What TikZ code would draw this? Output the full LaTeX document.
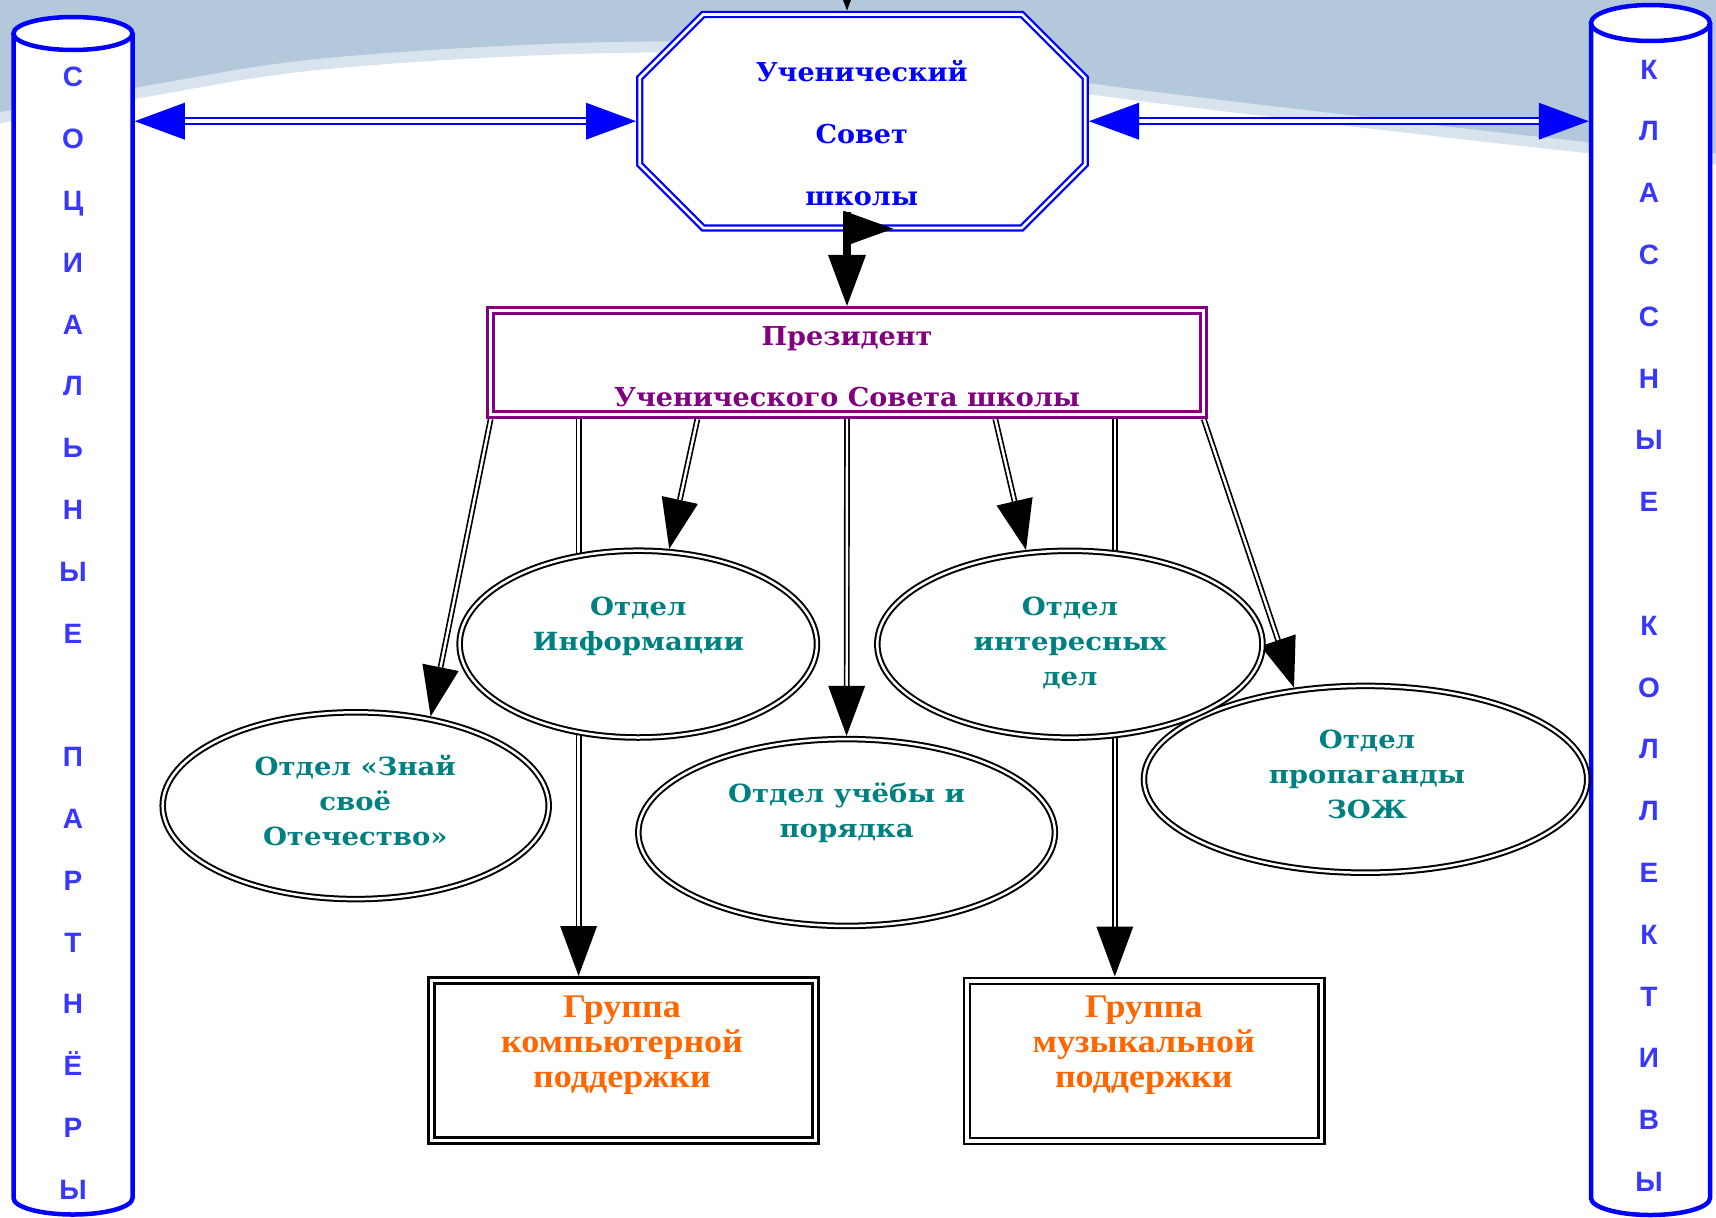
\documentclass[tikz,border=0pt]{standalone}
\usepackage{fontspec}
\usetikzlibrary{arrows.meta,shapes.geometric,calc}
\newfontfamily\bookf{DejaVu Serif}[FakeStretch=1.04]
\newfontfamily\bookw{DejaVu Serif}[FakeStretch=1.1]
\newfontfamily\timesf{Liberation Serif}[FakeStretch=1.09]
\newfontfamily\arialf{Liberation Sans}
\definecolor{bgblue}{RGB}{180,200,220}
\definecolor{bgpale}{RGB}{216,227,238}
\definecolor{cylblue}{RGB}{0,0,255}
\definecolor{cyltxt}{RGB}{55,55,255}
\definecolor{prespurple}{RGB}{128,0,128}
\definecolor{deptteal}{RGB}{0,128,128}
\definecolor{grporange}{RGB}{255,102,0}
\pgfdeclarelayer{bg}
\pgfdeclarelayer{edges}
\pgfsetlayers{bg,edges,main}
\tikzset{
  Big/.tip={Triangle[length=50pt,width=37pt,line width=0pt]},
  cylline/.style={draw=cylblue, line width=4.5pt, fill=white},
  cyltext/.style={text=cyltxt, font=\arialf\bfseries\fontsize{28}{61.8}\selectfont, align=center, inner sep=0pt},
  anchorbox/.style={rectangle, inner sep=0pt, outer sep=0pt},
  octline/.style={draw=cylblue, double=white, line width=2.3pt, double distance=2.7pt, fill=white},
  octtext/.style={text=cylblue, font=\bookf\bfseries\fontsize{26}{61.7}\selectfont, align=center, inner sep=0pt},
  presbox/.style={rectangle, draw=prespurple, double=white, line width=3pt, double distance=3.3pt, fill=white, minimum width=712.8pt, minimum height=103.8pt, inner sep=0pt, outer sep=4.65pt},
  prestext/.style={text=prespurple, font=\bookf\bfseries\fontsize{26}{61.7}\selectfont, align=center, inner sep=0pt},
  dept/.style={ellipse, draw=black, double=white, line width=2pt, double distance=2.5pt, fill=white, inner sep=0pt, outer sep=3.25pt, minimum height=186.8pt},
  depttext/.style={text=deptteal, font=\bookw\bfseries\fontsize{25}{35}\selectfont, align=center, inner sep=0pt},
  grp/.style={rectangle, draw=black, double=white, line width=2.6pt, double distance=3.4pt, fill=white, inner sep=0pt, outer sep=4.3pt, minimum height=160pt},
  grptext/.style={text=grporange, font=\timesf\bfseries\fontsize{33}{35}\selectfont, align=center, inner sep=0pt},
  conn/.style={draw=black, double=white, line width=1.7pt, double distance=2.4pt, -Big},
  blueconn/.style={draw=cylblue, double=white, line width=2pt, double distance=3.5pt, Big-Big},
}
\begin{document}
\begin{tikzpicture}[x=1pt,y=-1pt]
\useasboundingbox (0,0) rectangle (1716,1218);
\clip (0,0) rectangle (1716,1218);
\begin{pgfonlayer}{bg}
\fill[white] (0,0) rectangle (1716,1218);
\draw[bgpale, line width=22pt] plot[smooth, tension=0.6] coordinates {(-10,114) (139,87) (327,58) (612,42) (850,48) (1088,83) (1323,112) (1587,142) (1726,154)};
\fill[bgblue] (-10,-10) -- (1726,-10) -- plot[smooth, tension=0.6] coordinates {(1726,154) (1587,142) (1323,112) (1088,83) (850,48) (612,42) (327,58) (139,87) (-10,114)} -- cycle;
\end{pgfonlayer}

% cylinders
\node[anchorbox, minimum width=123.5pt, minimum height=1150pt] (lcyl) at (73,620) {};
\node[anchorbox, minimum width=123.5pt, minimum height=1150pt] (rcyl) at (1650.5,620) {};
\filldraw[cylline] (13.5,33.5) -- (13.5,1198) arc[start angle=180, end angle=0, x radius=59.5, y radius=16.5] -- (132.5,33.5);
\filldraw[cylline] (73,33.5) ellipse[x radius=59.5, y radius=16.5];
\filldraw[cylline] (1591,23) -- (1591,1198) arc[start angle=180, end angle=0, x radius=59.5, y radius=17] -- (1710,23);
\filldraw[cylline] (1650.5,23) ellipse[x radius=59.5, y radius=18];
\node[cyltext, anchor=base] (ltxt) at (73,1199.3) {С\\О\\Ц\\И\\А\\Л\\Ь\\Н\\Ы\\Е\\ \mbox{}\\П\\А\\Р\\Т\\Н\\Ё\\Р\\Ы};
\node[cyltext, anchor=base] (rtxt) at (1649,1191.5) {К\\Л\\А\\С\\С\\Н\\Ы\\Е\\ \mbox{}\\К\\О\\Л\\Л\\Е\\К\\Т\\И\\В\\Ы};

% octagon
\node[anchorbox, minimum width=453pt, minimum height=221pt] (oct) at (862.5,121.2) {};
\filldraw[octline] (639.7,77.9) -- (703.2,14.4) -- (1021.8,14.4) -- (1085.3,77.9) -- (1085.3,164.5) -- (1021.8,228) -- (703.2,228) -- (639.7,164.5) -- cycle;
\node[octtext, anchor=base] (octlabel) at ([xshift=-0.8pt, yshift=-83.9pt]oct.center) {Ученический\\Совет\\школы};

% president
\node[presbox] (pres) at (847,362.5) {};
\node[prestext, anchor=base] (preslabel) at ([yshift=-44.2pt]pres.center) {Президент\\Ученического Совета школы};

% connector octagon -> president
\draw[line width=7.3pt, -{Triangle[length=51pt, width=38pt, line width=0pt]}] ([yshift=20pt]pres.north |- oct.south) -- (pres.north);
\fill (843.3,210.7) -- (893.3,228.7) -- (843.3,246.7) -- cycle;

% departments
\node[dept, minimum width=357.4pt] (e1) at (638.3,644.1) {};
\node[dept, minimum width=443.3pt] (e5) at (1365.6,779.3) {};
\node[dept, minimum width=385.2pt] (e2) at (1069.9,644.2) {};
\node[dept, minimum width=386pt] (e3) at (355.7,805.7) {};
\node[dept, minimum width=416.6pt] (e4) at (846.6,832.5) {};
\node[depttext, anchor=base] (e1t) at ([yshift=-6pt]e1.center) {Отдел\\Информации};
\node[depttext, anchor=base] (e2t) at ([yshift=-41pt]e2.center) {Отдел\\интересных\\дел};
\node[depttext, anchor=base] (e3t) at ([yshift=-39.3pt,xshift=-0.4pt]e3.center) {Отдел «Знай\\своё\\Отечество»};
\node[depttext, anchor=base] (e4t) at ([yshift=-4.5pt]e4.center) {Отдел учёбы и\\порядка};
\node[depttext, anchor=base] (e5t) at ([yshift=-39pt,xshift=1.4pt]e5.center) {Отдел\\пропаганды\\ЗОЖ};

% groups
\node[grp, minimum width=384.3pt] (g6) at (623.6,1060.3) {};
\node[grp, minimum width=354.9pt] (g7) at (1144.3,1060.8) {};
\node[grptext, anchor=base] (g6t) at ([yshift=-27pt,xshift=-1.6pt]g6.center) {Группа\\компьютерной\\поддержки};
\node[grptext, anchor=base] (g7t) at ([yshift=-26.5pt,xshift=-0.5pt]g7.center) {Группа\\музыкальной\\поддержки};

\begin{pgfonlayer}{edges}
\coordinate (topsrc) at (847,-60);
\draw[line width=2pt, -Big] (topsrc) -- (pres.north |- oct.north);
\draw[blueconn] (oct.west -| lcyl.east) -- (oct.west);
\draw[blueconn] (oct.east) -- (oct.east -| rcyl.west);
\draw[conn] ([xshift=4.7pt]pres.south west) -- (e3.50);
\draw[conn] ([xshift=-45pt]g6.north |- pres.south) -- ([xshift=-45pt]g6.north);
\draw[conn] ([xshift=-149.6pt]pres.south) -- (e1.72);
\draw[conn] (pres.south) -- (e4.north);
\draw[conn] ([xshift=148.3pt]pres.south) -- (e2.115);
\draw[conn] ([xshift=-29.5pt]g7.north |- pres.south) -- ([xshift=-29.5pt]g7.north);
\draw[conn] ([xshift=-4.3pt]pres.south east) -- (e5.128);
\end{pgfonlayer}
\end{tikzpicture}
\end{document}
